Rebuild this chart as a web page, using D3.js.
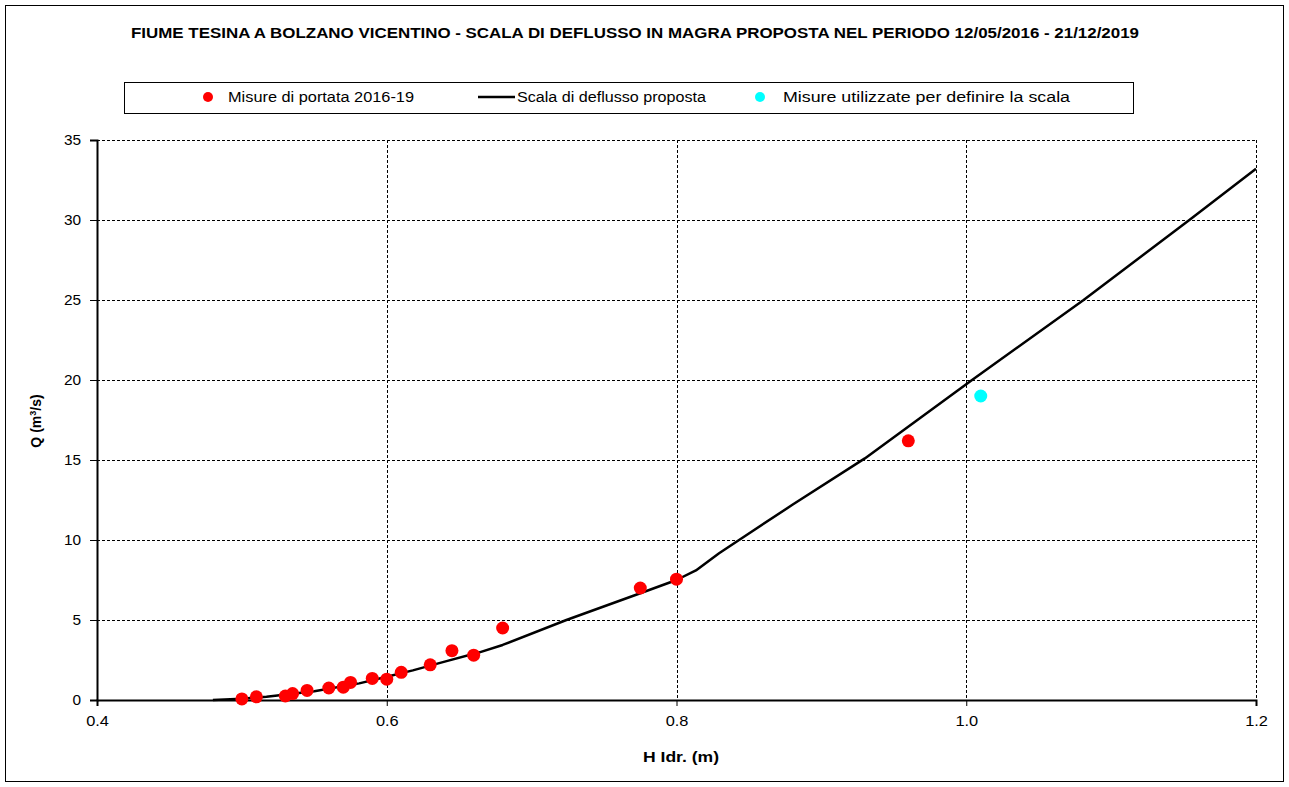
<!DOCTYPE html>
<html>
<head>
<meta charset="utf-8">
<script src="https://cdn.jsdelivr.net/npm/d3@7"></script>
<style>
  html, body { margin: 0; padding: 0; background: #fff; }
  svg { display: block; }
  text { font-family: "Liberation Sans", Arial, sans-serif; fill: #000; }
</style>
</head>
<body>
<svg id="chart" width="1289" height="787"></svg>
<script>
// ---- Data ----
const titleText = "FIUME TESINA A BOLZANO VICENTINO - SCALA DI DEFLUSSO IN MAGRA PROPOSTA NEL PERIODO 12/05/2016 - 21/12/2019";
const seriesNames = ["Misure di portata 2016-19", "Scala di deflusso proposta", "Misure utilizzate per definire la scala"];

// Misure di portata 2016-19 (H [m], Q [m3/s])
const measH = [0.50, 0.51, 0.53, 0.535, 0.545, 0.56, 0.57, 0.575, 0.59, 0.60, 0.61, 0.63, 0.645, 0.66, 0.68, 0.775, 0.80, 0.96];
const measQ = [0.07, 0.20, 0.25, 0.40, 0.60, 0.75, 0.80, 1.10, 1.35, 1.30, 1.73, 2.20, 3.08, 2.80, 4.50, 7.00, 7.55, 16.2];

// Misure utilizzate per definire la scala
const usedH = [1.01];
const usedQ = [19.0];

// Scala di deflusso proposta
const curveH = [0.48, 0.50, 0.517, 0.55, 0.581, 0.60, 0.618, 0.64, 0.664, 0.68, 0.724, 0.775, 0.80, 0.8134, 0.8294, 0.8432, 0.88, 0.93, 1.004, 1.081, 1.154, 1.20];
const curveQ = [0.00, 0.08, 0.20, 0.55, 1.04, 1.45, 1.85, 2.40, 2.98, 3.44, 5.00, 6.67, 7.50, 8.10, 9.17, 10.0, 12.2, 15.1, 20.0, 25.0, 30.0, 33.2];

const xTicks = [0.4, 0.6, 0.8, 1.0, 1.2];
const yTicks = [0, 5, 10, 15, 20, 25, 30, 35];

// ---- Layout ----
const svg = d3.select("#chart");
const W = 1289, H = 787;
const plot = { left: 97, right: 1256, top: 140, bottom: 700 };
const SX = 1.17; // horizontal stretch of the reference lettering

function stretch(sel, factor) {
  sel.each(function () {
    const len = this.getComputedTextLength();
    d3.select(this).attr("textLength", len * factor).attr("lengthAdjust", "spacingAndGlyphs");
  });
}

const x = d3.scaleLinear().domain([0.4, 1.2]).range([plot.left, plot.right]);
const y = d3.scaleLinear().domain([0, 35]).range([plot.bottom, plot.top]);

// outer border
svg.append("rect").attr("x", 5.5).attr("y", 5.5).attr("width", W - 11).attr("height", H - 11)
  .attr("fill", "#fff").attr("stroke", "#000").attr("stroke-width", 1);

// title
svg.append("text").attr("x", 635).attr("y", 38).attr("text-anchor", "middle")
  .style("font-size", "14px").style("font-weight", "bold").text(titleText)
  .attr("textLength", 1008).attr("lengthAdjust", "spacingAndGlyphs");

// gridlines
const grid = svg.append("g");
grid.selectAll("line.h").data(yTicks.filter(d => d > 0)).join("line")
  .attr("x1", plot.left).attr("x2", plot.right)
  .attr("y1", d => Math.round(y(d)) + 0.5).attr("y2", d => Math.round(y(d)) + 0.5)
  .attr("stroke", "#000").attr("stroke-width", 1).attr("stroke-dasharray", "3,2");
grid.selectAll("line.v").data(xTicks.filter(d => d > 0.4)).join("line")
  .attr("y1", plot.top).attr("y2", plot.bottom)
  .attr("x1", d => Math.round(x(d)) + 0.5).attr("x2", d => Math.round(x(d)) + 0.5)
  .attr("stroke", "#000").attr("stroke-width", 1).attr("stroke-dasharray", "3,2");

// axes
const yAxis = d3.axisLeft(y).tickValues(yTicks).tickSize(7).tickPadding(9).tickFormat(d3.format("d"));
const gy = svg.append("g").attr("transform", `translate(${plot.left},0)`).call(yAxis);
gy.select(".domain").attr("stroke-width", 2);
gy.selectAll(".tick line").attr("stroke-width", 1);
gy.selectAll(".tick text").style("font-size", "14px").style("font-family", "Liberation Sans, Arial, sans-serif");
stretch(gy.selectAll(".tick text"), 1.1);

const xAxis = d3.axisBottom(x).tickValues(xTicks).tickSize(6).tickPadding(10).tickFormat(d3.format(".1f"));
const gx = svg.append("g").attr("transform", `translate(0,${plot.bottom})`).call(xAxis);
gx.select(".domain").attr("stroke-width", 2);
gx.selectAll(".tick line").attr("stroke-width", 1);
gx.selectAll(".tick text").style("font-size", "14px").style("font-family", "Liberation Sans, Arial, sans-serif");
stretch(gx.selectAll(".tick text"), SX);

// axis titles
svg.append("text").attr("x", 681).attr("y", 762).attr("text-anchor", "middle")
  .style("font-size", "14px").style("font-weight", "bold").text("H Idr. (m)")
  .attr("textLength", 76).attr("lengthAdjust", "spacingAndGlyphs");
const yt = svg.append("text").attr("transform", "translate(41,421) rotate(-90)").attr("text-anchor", "middle")
  .style("font-size", "14px").style("font-weight", "bold");
yt.append("tspan").text("Q (m");
yt.append("tspan").attr("dy", -5).style("font-size", "9px").text("3");
yt.append("tspan").attr("dy", 5).text("/s)");

// curve
const curveData = curveH.map((h, i) => [h, curveQ[i]]);
const line = d3.line().x(d => x(d[0])).y(d => y(d[1]));
svg.append("path").datum(curveData).attr("d", line)
  .attr("fill", "none").attr("stroke", "#000").attr("stroke-width", 2.5).attr("stroke-linejoin", "round");

// points
const measData = measH.map((h, i) => [h, measQ[i]]);
svg.append("g").selectAll("circle").data(measData).join("circle")
  .attr("cx", d => x(d[0])).attr("cy", d => y(d[1])).attr("r", 6.5).attr("fill", "#ff0000");
const usedData = usedH.map((h, i) => [h, usedQ[i]]);
svg.append("g").selectAll("circle").data(usedData).join("circle")
  .attr("cx", d => x(d[0])).attr("cy", d => y(d[1])).attr("r", 6.5).attr("fill", "#00ffff");

// legend
const lg = svg.append("g");
lg.append("rect").attr("x", 124.5).attr("y", 82.5).attr("width", 1009).attr("height", 31)
  .attr("fill", "#fff").attr("stroke", "#000").attr("stroke-width", 1);
lg.append("circle").attr("cx", 208).attr("cy", 97).attr("r", 5).attr("fill", "#ff0000");
lg.append("text").attr("x", 228).attr("y", 102).style("font-size", "14px").text(seriesNames[0])
  .attr("textLength", 186).attr("lengthAdjust", "spacingAndGlyphs");
lg.append("line").attr("x1", 478).attr("x2", 515).attr("y1", 97).attr("y2", 97)
  .attr("stroke", "#000").attr("stroke-width", 2.5);
lg.append("text").attr("x", 517).attr("y", 102).style("font-size", "14px").text(seriesNames[1])
  .attr("textLength", 189).attr("lengthAdjust", "spacingAndGlyphs");
lg.append("circle").attr("cx", 760).attr("cy", 97).attr("r", 5).attr("fill", "#00ffff");
lg.append("text").attr("x", 783).attr("y", 102).style("font-size", "14px").text(seriesNames[2])
  .attr("textLength", 287).attr("lengthAdjust", "spacingAndGlyphs");
</script>
</body>
</html>
